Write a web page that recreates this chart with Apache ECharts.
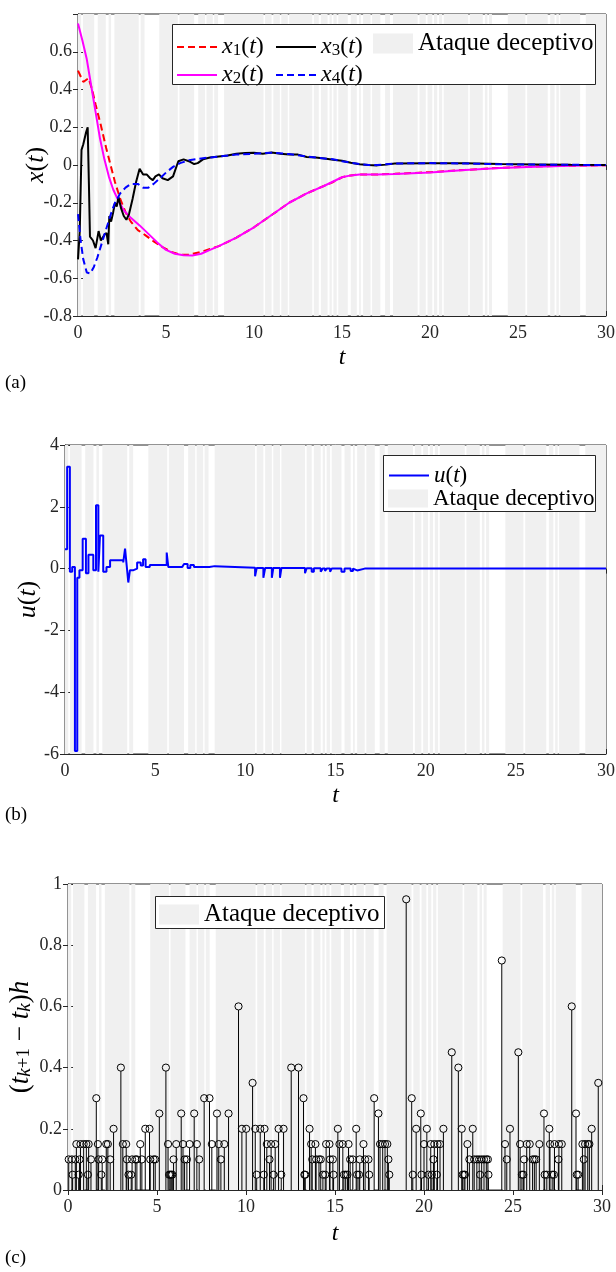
<!DOCTYPE html>
<html><head><meta charset="utf-8">
<script src="https://cdn.jsdelivr.net/npm/echarts@6/dist/echarts.min.js"></script>
<style>html,body{margin:0;padding:0;background:#fff}#c{width:616px;height:1272px}</style>
</head><body><div id="c"></div>
<script>
// ---- Attack intervals (gray bands), [start, end] in t ----
const attackIntervals = [[0,0.18],[0.28,0.92],[1.12,1.58],[1.74,1.88],[2.07,3.45],[3.56,3.78],[4.62,5.67],[5.76,6.6],[6.83,7.22],[7.3,7.66],[7.74,7.96],[8.3,10.54],[10.63,11.0],[11.1,11.47],[11.55,11.92],[12.0,13.31],[13.4,13.68],[13.8,14.18],[14.29,14.42],[14.51,14.7],[14.79,15.33],[15.5,15.84],[15.97,16.07],[16.2,16.62],[16.71,17.18],[17.45,17.73],[17.9,19.3],[19.4,19.76],[19.86,20.13],[20.23,20.41],[20.51,20.69],[20.78,22.17],[22.26,23.0],[23.12,23.26],[23.35,23.52],[24.42,25.42],[25.52,26.69],[26.83,27.08],[27.18,27.32],[27.4,28.53],[28.85,30]];

// ---- Panel (a): states ----
const x1Data = [[0,0.5],[0.3,0.44],[0.6,0.46],[0.8,0.40],[1.0,0.32],[1.3,0.21],[1.6,0.09],[1.85,0.0],[2.1,-0.09],[2.4,-0.18],[2.7,-0.25],[3.0,-0.30],[3.4,-0.345],[3.8,-0.37],[4.3,-0.405],[4.8,-0.435],[5.3,-0.46],[5.8,-0.475],[6.3,-0.475],[7.0,-0.46],[7.5,-0.445],[8.0,-0.43],[9,-0.385],[10,-0.33],[11,-0.265],[12,-0.2],[13,-0.15],[14,-0.11],[14.5,-0.09],[15,-0.065],[15.5,-0.055],[16,-0.05],[17,-0.05],[18,-0.047],[20,-0.038],[22,-0.026],[24,-0.015],[26,-0.008],[28,-0.004],[30,-0.001]];
const x2Data = [[0,0.75],[0.25,0.66],[0.5,0.56],[0.75,0.42],[1.0,0.28],[1.25,0.14],[1.5,0.03],[1.75,-0.06],[2.0,-0.13],[2.3,-0.19],[2.6,-0.24],[3.0,-0.28],[3.5,-0.32],[4.0,-0.365],[4.5,-0.41],[5.0,-0.45],[5.5,-0.47],[6.0,-0.478],[6.5,-0.48],[7.0,-0.47],[7.5,-0.45],[8.0,-0.43],[9,-0.385],[10,-0.33],[11,-0.265],[12,-0.2],[13,-0.15],[14,-0.11],[15,-0.065],[15.5,-0.055],[16,-0.05],[17,-0.05],[18,-0.048],[20,-0.04],[22,-0.027],[24,-0.016],[26,-0.009],[28,-0.004],[30,-0.001]];
const x3Data = [[0,-0.5],[0.1,-0.35],[0.2,0.08],[0.3,0.11],[0.45,0.17],[0.55,0.2],[0.62,-0.1],[0.68,-0.38],[0.85,-0.4],[1.0,-0.44],[1.08,-0.45],[1.17,-0.35],[1.3,-0.4],[1.4,-0.39],[1.5,-0.37],[1.62,-0.36],[1.72,-0.42],[1.78,-0.27],[1.88,-0.3],[2.0,-0.25],[2.1,-0.2],[2.2,-0.22],[2.3,-0.17],[2.45,-0.23],[2.6,-0.27],[2.75,-0.29],[2.9,-0.26],[3.1,-0.18],[3.3,-0.09],[3.5,-0.02],[3.6,-0.03],[3.7,-0.05],[3.9,-0.05],[4.1,-0.07],[4.25,-0.08],[4.4,-0.06],[4.6,-0.05],[4.8,-0.07],[5.1,-0.08],[5.4,-0.06],[5.7,0.02],[6.0,0.03],[6.3,0.02],[6.6,0.005],[6.8,0.01],[7.1,0.03],[7.5,0.04],[8.0,0.045],[8.5,0.05],[9,0.06],[9.5,0.063],[10,0.065],[10.5,0.06],[11,0.066],[11.5,0.06],[12,0.055],[12.5,0.055],[13,0.042],[13.5,0.04],[14,0.035],[14.5,0.028],[15,0.022],[15.5,0.012],[16,0.004],[16.5,0.0],[17,-0.002],[17.5,0.002],[18,0.008],[20,0.009],[22,0.009],[24,0.005],[26,0.003],[28,0.001],[30,0]];
const x4Data = [[0,-0.26],[0.15,-0.4],[0.3,-0.5],[0.5,-0.57],[0.7,-0.575],[0.9,-0.54],[1.1,-0.49],[1.3,-0.43],[1.5,-0.37],[1.7,-0.31],[1.9,-0.25],[2.1,-0.2],[2.4,-0.15],[2.7,-0.12],[3.0,-0.1],[3.4,-0.1],[3.7,-0.12],[4.0,-0.12],[4.3,-0.1],[4.6,-0.075],[5.0,-0.04],[5.4,-0.01],[5.8,0.01],[6.3,0.025],[7,0.035],[8,0.045],[9,0.055],[10,0.06],[11,0.065],[12,0.058],[13,0.045],[14,0.035],[14.5,0.03],[15,0.02],[15.5,0.012],[16,0.005],[16.5,0.0],[17,0.0],[18,0.008],[20,0.01],[22,0.008],[24,0.004],[26,0.002],[28,0.001],[30,0]];

// ---- Panel (b): control input (piecewise constant, [t_start, value]) ----
const uData = [[0,0.63],[0.12,3.3],[0.27,-0.1],[0.4,0.05],[0.55,-5.9],[0.68,-0.3],[0.8,-0.05],[0.98,0.97],[1.16,-0.15],[1.3,0.45],[1.57,-0.05],[1.72,2.05],[1.85,-0.1],[1.94,1.07],[2.12,-0.1],[2.3,0.05],[2.5,0.27],[3.23,0.2],[3.33,0.65],[3.42,0.1],[3.51,-0.45],[3.6,-0.05],[3.8,0.0],[4.0,0.2],[4.2,0.1],[4.33,0.3],[4.47,0.05],[4.7,0.12],[5.64,0.52],[5.73,0.05],[6.5,0.0],[6.6,0.15],[6.8,0.02],[6.95,0.12],[7.15,0.05],[8.0,0.0],[8.1,0.08],[8.3,0.03],[10.54,-0.25],[10.63,0.02],[11.0,-0.3],[11.1,0.02],[11.47,-0.3],[11.55,0.02],[11.92,-0.3],[12.0,0.02],[13.31,-0.15],[13.4,0.01],[13.68,-0.1],[13.8,0.01],[14.18,-0.1],[14.29,0.0],[14.42,-0.08],[14.51,0.0],[14.7,-0.1],[14.79,0.0],[15.33,-0.1],[15.5,0.0],[15.84,-0.08],[15.97,0.0],[16.07,-0.06],[16.2,0.0],[16.62,-0.05],[16.71,0.0],[30,0.0]];

// ---- Panel (c): inter-event intervals (stem plot) ----
const stemData = [[0.04,0.1],[0.22,0.1],[0.26,0.05],[0.41,0.1],[0.47,0.15],[0.6,0.05],[0.65,0.1],[0.7,0.15],[0.88,0.15],[1.03,0.15],[1.12,0.05],[1.16,0.15],[1.29,0.1],[1.59,0.3],[1.68,0.15],[1.72,0.1],[1.87,0.05],[1.92,0.1],[2.15,0.15],[2.24,0.15],[2.37,0.1],[2.56,0.2],[2.97,0.4],[3.08,0.15],[3.27,0.15],[3.31,0.1],[3.4,0.05],[3.55,0.05],[3.6,0.1],[3.78,0.1],[3.87,0.1],[4.06,0.15],[4.15,0.1],[4.34,0.2],[4.58,0.2],[4.62,0.1],[4.81,0.1],[4.9,0.1],[5.13,0.25],[5.5,0.4],[5.62,0.15],[5.68,0.05],[5.74,0.05],[5.8,0.05],[5.86,0.05],[5.93,0.1],[6.08,0.15],[6.36,0.25],[6.46,0.15],[6.55,0.1],[6.68,0.1],[6.83,0.15],[7.09,0.25],[7.24,0.15],[7.37,0.1],[7.65,0.3],[7.95,0.3],[8.08,0.15],[8.37,0.25],[8.47,0.15],[8.59,0.1],[8.78,0.15],[9.02,0.25],[9.58,0.6],[9.77,0.2],[10.01,0.2],[10.37,0.35],[10.52,0.2],[10.6,0.05],[10.8,0.2],[11.0,0.05],[11.04,0.2],[11.17,0.15],[11.32,0.1],[11.41,0.15],[11.54,0.05],[11.64,0.15],[11.83,0.2],[11.98,0.05],[12.11,0.2],[12.54,0.4],[12.95,0.4],[13.23,0.3],[13.28,0.05],[13.33,0.05],[13.57,0.2],[13.66,0.15],[13.72,0.1],[13.9,0.15],[13.94,0.1],[14.1,0.1],[14.2,0.1],[14.32,0.05],[14.45,0.05],[14.5,0.15],[14.69,0.15],[14.72,0.1],[14.88,0.1],[14.92,0.05],[15.16,0.2],[15.25,0.15],[15.44,0.15],[15.5,0.05],[15.6,0.05],[15.7,0.05],[15.76,0.15],[15.85,0.1],[16.0,0.1],[16.19,0.2],[16.24,0.05],[16.35,0.05],[16.39,0.1],[16.6,0.15],[16.69,0.1],[16.88,0.1],[16.92,0.05],[17.2,0.3],[17.44,0.25],[17.53,0.15],[17.68,0.15],[17.81,0.15],[17.94,0.15],[18.0,0.1],[18.05,0.05],[19.0,0.95],[19.31,0.3],[19.37,0.05],[19.56,0.2],[19.82,0.25],[19.86,0.05],[20.0,0.15],[20.16,0.2],[20.25,0.05],[20.38,0.15],[20.44,0.05],[20.53,0.1],[20.58,0.15],[20.72,0.05],[20.76,0.15],[20.9,0.15],[21.09,0.2],[21.56,0.45],[21.93,0.4],[22.12,0.2],[22.17,0.05],[22.25,0.05],[22.3,0.05],[22.44,0.15],[22.55,0.1],[22.74,0.2],[22.82,0.1],[22.97,0.1],[23.1,0.1],[23.15,0.05],[23.24,0.1],[23.37,0.1],[23.5,0.1],[23.59,0.1],[23.62,0.05],[24.37,0.75],[24.55,0.15],[24.65,0.1],[24.83,0.2],[25.3,0.45],[25.4,0.15],[25.5,0.05],[25.58,0.05],[25.62,0.1],[25.77,0.15],[25.94,0.15],[26.1,0.1],[26.2,0.1],[26.3,0.1],[26.48,0.15],[26.74,0.25],[26.78,0.05],[26.9,0.05],[27.04,0.2],[27.08,0.15],[27.2,0.05],[27.3,0.05],[27.33,0.15],[27.55,0.1],[27.58,0.15],[27.74,0.15],[28.3,0.6],[28.54,0.25],[28.58,0.05],[28.66,0.05],[28.9,0.15],[28.98,0.1],[29.05,0.15],[29.2,0.15],[29.29,0.15],[29.42,0.2],[29.79,0.35]];

// ---- Tick settings ----
const xTicks = {min:0, max:30, interval:5};
const yTicksA = {min:-0.8, max:0.8, interval:0.2};
const yTicksB = {min:-6, max:4, interval:2};
const yTicksC = {min:0, max:1, interval:0.2};

const FF = 'Liberation Serif';
const AX = '#262626';
const BAND = '#f0f0f0';
const richMath = (fs) => ({
  i:{fontFamily:FF, fontStyle:'italic', fontSize:fs, color:'#000'},
  n:{fontFamily:FF, fontSize:fs, color:'#000'},
  s:{fontFamily:FF, fontSize:Math.round(fs*0.7), color:'#000', verticalAlign:'bottom', lineHeight:fs-1},
  si:{fontFamily:FF, fontStyle:'italic', fontSize:Math.round(fs*0.7), color:'#000', verticalAlign:'bottom', lineHeight:fs-1}
});
const legendLabels = {
  'x1(t)':'{i|x}{s|1}{n|(}{i|t}{n|)}',
  'x2(t)':'{i|x}{s|2}{n|(}{i|t}{n|)}',
  'x3(t)':'{i|x}{s|3}{n|(}{i|t}{n|)}',
  'x4(t)':'{i|x}{s|4}{n|(}{i|t}{n|)}',
  'u(t)':'{i|u}{n|(}{i|t}{n|)}',
  'Ataque deceptivo':'{n|Ataque deceptivo}'
};

const gridBase = {outerBoundsMode:'none', containLabel:false, show:true, borderColor:AX, borderWidth:1, backgroundColor:'transparent'};
const grids = [
  Object.assign({left:78, top:14, width:528, height:302}, gridBase),
  Object.assign({left:65, top:445, width:541, height:309}, gridBase),
  Object.assign({left:68, top:884, width:534, height:306}, gridBase)
];

function xAxisMain(gi, gap){
  return Object.assign({type:'value', gridIndex:gi, position:'bottom',
      axisLine:{show:true, onZero:false, lineStyle:{color:AX, width:1}},
      axisTick:{show:true, inside:true, length:5, lineStyle:{color:AX}},
      axisLabel:{color:AX, fontFamily:FF, fontSize:18, margin:8},
      splitLine:{show:false},
      name:'t', nameLocation:'middle', nameGap:gap, nameMoveOverlap:false,
      nameTextStyle:{fontFamily:FF, fontStyle:'italic', fontSize:24, color:'#000'}}, xTicks);
}
function xAxisTop(gi){
  return Object.assign({type:'value', gridIndex:gi, position:'top',
      axisLine:{show:false}, axisTick:{show:true, inside:true, length:5, lineStyle:{color:AX}},
      axisLabel:{show:false}, splitLine:{show:false}}, xTicks);
}
function yAxisMain(gi, ticks, name, gap, fs, extraLabel){
  return Object.assign({type:'value', gridIndex:gi, position:'left',
      axisLine:{show:true, onZero:false, lineStyle:{color:AX, width:1}},
      axisTick:{show:true, inside:true, length:5, lineStyle:{color:AX}},
      axisLabel:Object.assign({color:AX, fontFamily:FF, fontSize:18, margin:6}, extraLabel||{}),
      splitLine:{show:false},
      name:name, nameLocation:'middle', nameGap:gap, nameRotate:90, nameMoveOverlap:false,
      nameTextStyle:{fontFamily:FF, fontSize:fs, color:'#000', rich:richMath(fs)}}, ticks);
}
function yAxisRight(gi, ticks){
  return Object.assign({type:'value', gridIndex:gi, position:'right',
      axisLine:{show:false}, axisTick:{show:true, inside:true, length:5, lineStyle:{color:AX}},
      axisLabel:{show:false}, splitLine:{show:false}}, ticks);
}

function bandSeries(ai){
  return {
    type:'custom', name:'Ataque deceptivo', xAxisIndex:ai, yAxisIndex:ai, z:1, silent:true, clip:true,
    itemStyle:{color:BAND},
    data: attackIntervals.map(d => [d[0], d[1], 0]),
    encode:{x:[0,1], y:2},
    renderItem: function(params, api){
      const s = api.coord([api.value(0), 0]);
      const e = api.coord([api.value(1), 0]);
      const cs = params.coordSys;
      return {type:'rect', shape:{x:s[0], y:cs.y, width:e[0]-s[0], height:cs.height}, style:{fill:BAND, stroke:null}};
    }
  };
}
function lineSeries(name, data, color, dashed, ai, z){
  return {type:'line', name:name, data:data, xAxisIndex:ai, yAxisIndex:ai, symbol:'none', smooth:false, z:z,
    lineStyle:{color:color, width:2, type: dashed ? [7,4] : 'solid'}, itemStyle:{color:color}};
}

function leg(name, left, centerY, h, fs, extra){
  return {padding:0, itemWidth:40, itemHeight:h, itemGap:0, selectedMode:false, z:20,
    left:left, top:centerY - h/2,
    textStyle:{fontFamily:FF, fontSize:fs, color:'#000', rich:richMath(fs)},
    formatter: n => legendLabels[n],
    data:[Object.assign({name:name}, extra||{itemStyle:{opacity:0}})]};
}
const rectItem = {icon:'rect', itemStyle:{color:BAND, borderWidth:0}};

const option = {
  animation:false,
  backgroundColor:'#fff',
  grid: grids,
  xAxis: [xAxisMain(0,30), xAxisMain(1,30), xAxisMain(2,32), xAxisTop(0), xAxisTop(1), xAxisTop(2)],
  yAxis: [
    yAxisMain(0, yTicksA, '{i|x}{n|(}{i|t}{n|)}', 29, 26, {showMaxLabel:false}),
    yAxisMain(1, yTicksB, '{i|u}{n|(}{i|t}{n|)}', 24, 26),
    yAxisMain(2, yTicksC, '{n|(}{i|t}{si|k}{s|+1}{n| − }{i|t}{si|k}{n|)}{i|h}', 34, 27),
    yAxisRight(0, yTicksA), yAxisRight(1, yTicksB), yAxisRight(2, yTicksC)
  ],
  legend: [
    leg('x1(t)', 176, 42, 14, 24),
    leg('x3(t)', 275, 42, 14, 24),
    leg('Ataque deceptivo', 373, 41, 20, 25, rectItem),
    leg('x2(t)', 176, 70, 14, 24),
    leg('x4(t)', 275, 70, 14, 24),
    leg('u(t)', 388, 471, 14, 23),
    leg('Ataque deceptivo', 388, 496, 18, 23, rectItem),
    leg('Ataque deceptivo', 159, 912, 20, 25, rectItem)
  ],
  graphic: [
    {type:'rect', z:3, shape:{x:172.5, y:24.5, width:423, height:60}, style:{fill:'#fff', stroke:AX, lineWidth:1}},
    {type:'rect', z:3, shape:{x:383.5, y:455.5, width:212, height:56}, style:{fill:'#fff', stroke:AX, lineWidth:1}},
    {type:'rect', z:3, shape:{x:155.5, y:896.5, width:229, height:32}, style:{fill:'#fff', stroke:AX, lineWidth:1}},
    {type:'text', left:5, top:374, style:{text:'(a)', font:'19px "Liberation Serif"', fill:'#000'}},
    {type:'text', left:5, top:806, style:{text:'(b)', font:'19px "Liberation Serif"', fill:'#000'}},
    {type:'text', left:5, top:1249, style:{text:'(c)', font:'19px "Liberation Serif"', fill:'#000'}}
  ],
  series: [
    bandSeries(0), bandSeries(1), bandSeries(2),
    lineSeries('x1(t)', x1Data, '#ff0000', true, 0, 2),
    lineSeries('x2(t)', x2Data, '#ff00ff', false, 0, 2),
    lineSeries('x3(t)', x3Data, '#000000', false, 0, 2),
    lineSeries('x4(t)', x4Data, '#0000ff', true, 0, 2),
    Object.assign(lineSeries('u(t)', uData, '#0000ff', false, 1, 2), {step:'end'}),
    {
      type:'custom', name:'stems', xAxisIndex:2, yAxisIndex:2, z:2, data:stemData,
      encode:{x:0, y:1},
      renderItem: function(params, api){
        const p0 = api.coord([api.value(0), 0]);
        const p1 = api.coord([api.value(0), api.value(1)]);
        return {type:'group', children:[
          {type:'line', shape:{x1:p0[0], y1:p0[1], x2:p1[0], y2:p1[1]+3.6}, style:{stroke:'#000', lineWidth:1}},
          {type:'circle', shape:{cx:p1[0], cy:p1[1], r:3.6}, style:{fill:'none', stroke:'#000', lineWidth:1}}
        ]};
      }
    }
  ]
};
const chart = echarts.init(document.getElementById('c'), null, {renderer:'canvas'});
chart.setOption(option);
</script>
</body></html>
